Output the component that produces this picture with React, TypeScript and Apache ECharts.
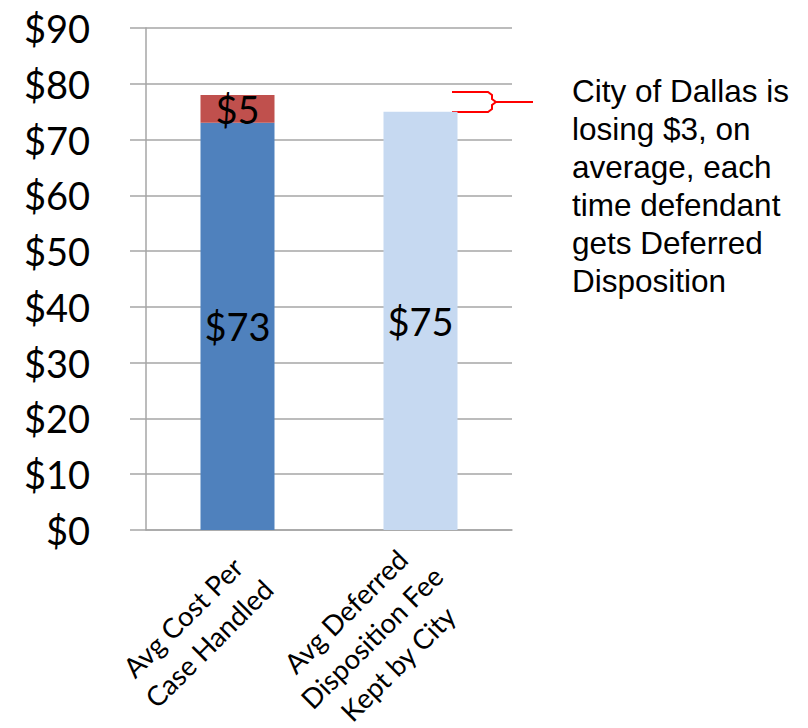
import React, { useEffect, useRef } from "react";
import * as echarts from "echarts";

const categories = ["Avg Cost Per\nCase Handled", "Avg Deferred\nDisposition Fee\nKept by City"];
const costValues: (number | string)[] = [73, "-"];
const extraCostValues: (number | string)[] = [5, "-"];
const feeValues: (number | string)[] = ["-", 75];
const yTicks = { min: 0, max: 90, interval: 10 };
const noteLines = [
  "City of Dallas is",
  "losing $3, on",
  "average, each",
  "time defendant",
  "gets Deferred",
  "Disposition",
];

const GREY = "#A6A6A6";
const LABEL_FONT = "Lato, 'Open Sans', sans-serif";

export default function App() {
  const ref = useRef<HTMLDivElement>(null);
  useEffect(() => {
    document.body.style.margin = "0";
    if (!ref.current) return;
    const chart = echarts.init(ref.current, undefined, { renderer: "svg" });
    const barLabel = {
      show: true,
      position: "inside" as const,
      color: "#000",
      fontSize: 38,
      fontFamily: LABEL_FONT,
      formatter: (p: any) => "$" + p.value,
    };
    chart.setOption({
      animation: false,
      backgroundColor: "#fff",
      grid: { left: 146, right: 296, top: 28, bottom: 198, containLabel: false, outerBoundsMode: "none" },
      xAxis: {
        type: "category",
        data: categories,
        axisLine: { show: true, lineStyle: { color: GREY, width: 1.5 } },
        axisTick: { show: false },
        axisLabel: {
          rotate: 45,
          interval: 0,
          fontSize: 27.5,
          lineHeight: 37,
          fontFamily: LABEL_FONT,
          color: "#000",
          margin: 24,
          align: "right",
          verticalAlign: "middle",
          padding: [49, 0, 0, 0],
          formatter: (v: string) =>
            v
              .split("\n")
              .map((l) => `{c|${l}}`)
              .join("\n"),
          rich: {
            c: {
              align: "center",
              fontSize: 27.5,
              lineHeight: 37,
              fontFamily: LABEL_FONT,
              color: "#000",
            },
          },
        },
      },
      yAxis: {
        type: "value",
        min: yTicks.min,
        max: yTicks.max,
        interval: yTicks.interval,
        axisLine: { show: true, lineStyle: { color: GREY, width: 1.5 } },
        axisTick: { show: true, inside: false, length: 16, lineStyle: { color: GREY, width: 1.5 } },
        splitLine: { show: true, lineStyle: { color: GREY, width: 1.5 } },
        axisLabel: {
          fontSize: 38,
          fontFamily: LABEL_FONT,
          color: "#000",
          margin: 56,
          formatter: (v: number) => "$" + v,
        },
      },
      series: [
        {
          name: "Avg Cost",
          type: "bar",
          stack: "total",
          barWidth: 74,
          data: costValues,
          itemStyle: { color: "#4F81BD" },
          label: barLabel,
        },
        {
          name: "Extra Cost",
          type: "bar",
          stack: "total",
          barWidth: 74,
          data: extraCostValues,
          itemStyle: { color: "#C0504D" },
          label: barLabel,
        },
        {
          name: "Fee Kept",
          type: "bar",
          stack: "total",
          barWidth: 74,
          data: feeValues,
          itemStyle: { color: "#C6D9F1" },
          label: barLabel,
        },
      ],
      graphic: [
        {
          type: "polyline",
          shape: { points: [[452, 92], [488, 92], [492, 95], [492, 99], [496, 102], [533, 102]] },
          style: { stroke: "#FF0000", lineWidth: 2, fill: null },
        },
        {
          type: "polyline",
          shape: { points: [[452, 112], [488, 112], [492, 109], [492, 105], [496, 102]] },
          style: { stroke: "#FF0000", lineWidth: 2, fill: null },
        },
        {
          type: "text",
          left: 572,
          top: 72,
          style: {
            text: noteLines.join("\n"),
            fontSize: 31.5,
            lineHeight: 38,
            fontFamily: "'Liberation Sans', Arial, sans-serif",
            fill: "#000",
          },
        },
      ],
    });
    return () => chart.dispose();
  }, []);
  return <div ref={ref} style={{ width: 808, height: 728 }} />;
}
